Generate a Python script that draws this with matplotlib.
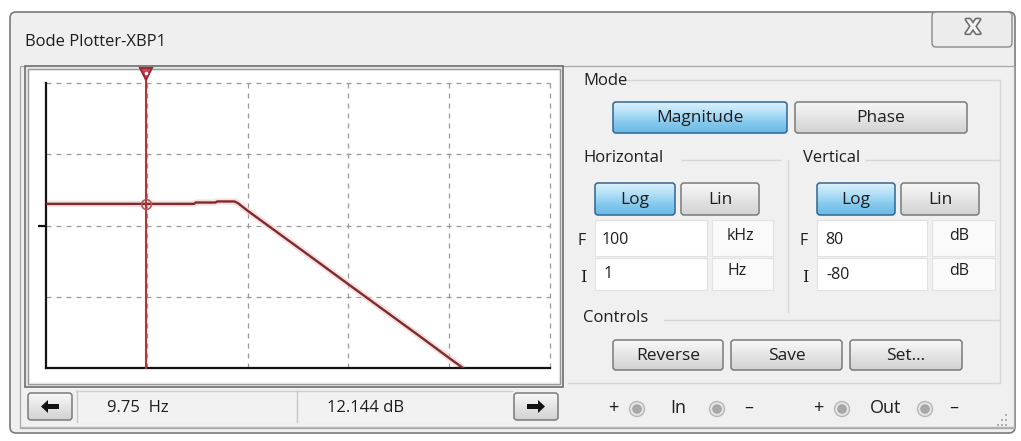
import numpy as np
import matplotlib
matplotlib.use("Agg")
import matplotlib.pyplot as plt
from matplotlib.patches import FancyBboxPatch, Rectangle, Circle, Polygon
from matplotlib.colors import LinearSegmentedColormap
from matplotlib.transforms import blended_transform_factory
import matplotlib.patheffects as pe

# ---------------- data ----------------
freq_hz = [1, 29.5, 30.5, 48, 50, 74, 80, 100, 200, 500, 1000, 2000, 5000, 10000, 13700]
mag_db = [12.144, 12.144, 12.9, 12.9, 13.5, 13.5, 12.6, 8.3, -4.1, -20.5, -33.0, -45.4, -61.8, -74.4, -80.0]
cursor_hz = 9.75
cursor_db = 12.144
x_grid = [10, 100, 1000, 10000, 100000]
y_grid = [-40, 0, 40, 80]
x_range = (1, 100000)
y_range = (-80, 80)
cursor_freq_label = "9.75  Hz"
cursor_mag_label = "12.144 dB"

FONT = "Open Sans"
W, H = 1021, 441
fig = plt.figure(figsize=(W / 100, H / 100), dpi=100)
fig.patch.set_facecolor("#ffffff")

bg = fig.add_axes([0, 0, 1, 1])
bg.set_axis_off()


def rrect(x0, y0, x1, y1, fc, ec, lw=1.0, r=3, z=1):
    p = FancyBboxPatch((x0, y0), x1 - x0, y1 - y0,
                       boxstyle=f"round,pad=0,rounding_size={r}",
                       fc=fc, ec=ec, lw=lw, zorder=z)
    bg.add_patch(p)
    return p


def gradient_button(x0, y0, x1, y1, label, selected=False, fs=12.5):
    if selected:
        cols = ["#dcf1fc", "#b3e0f7", "#85c9ee", "#6bb9e3"]
        edge = "#2f6690"
    else:
        cols = ["#f7f7f7", "#ececec", "#dedede", "#d2d2d2"]
        edge = "#7a7a7a"
    patch = rrect(x0, y0, x1, y1, "none", edge, lw=1.1, r=3, z=4)
    cmap = LinearSegmentedColormap.from_list("g", cols)
    grad = np.linspace(0, 1, 64).reshape(-1, 1)
    im = bg.imshow(grad, extent=(x0, x1, y1, y0), cmap=cmap, aspect="auto",
                   zorder=3, interpolation="bilinear")
    im.set_clip_path(patch)
    if label:
        bg.text((x0 + x1) / 2, (y0 + y1) / 2 + 1, label, ha="center", va="center",
                fontsize=fs, family=FONT, color="#1e1e1e", zorder=5)


# window
rrect(10, 12, 1015, 433, "#efefef", "#7a7a7a", lw=1.2, r=6, z=0.5)
# inner content panel
bg.add_patch(Rectangle((20, 66), 994, 362, fc="#f0f0f0", ec="#a8a8a8", lw=0.9, zorder=0.6))
bg.text(25, 42, "Bode Plotter-XBP1", fontsize=12, family=FONT, color="#1e1e1e",
        ha="left", va="center")

# close button
rrect(932, 12, 1012, 47, "#ececec", "#8a8a8a", lw=1.0, r=4, z=1)
bg.text(973, 28, "X", fontsize=14, family="DejaVu Sans", fontweight="bold", color="#f4f4f4",
        ha="center", va="center", zorder=2,
        path_effects=[pe.withStroke(linewidth=2.4, foreground="#6f6f6f")])

# plot frame
bg.add_patch(Rectangle((25, 66), 538, 321, fc="#e6e6e6", ec="#6f6f6f", lw=1.2, zorder=1))
bg.add_patch(Rectangle((28, 69), 532, 315, fc="#f7f7f7", ec="#9a9a9a", lw=1.0, zorder=1.1))
bg.add_patch(Rectangle((30, 71), 528, 311, fc="#ffffff", ec="none", zorder=1.2))

# bottom bar
bg.add_patch(Rectangle((76, 391), 436, 31, fc="#f2f2f2", ec="none", zorder=1))
bg.plot([76, 512], [391, 391], color="#cfcfcf", lw=1, zorder=1.5)
for xs in (77, 297):
    bg.plot([xs, xs], [391, 422], color="#c8c8c8", lw=1, zorder=1.5)
gradient_button(28, 393, 72, 420, "", False)
gradient_button(514, 393, 558, 420, "", False)
bg.add_patch(Polygon([[41, 406.5], [48, 400], [48, 404], [59, 404], [59, 409],
                      [48, 409], [48, 413]], closed=True, fc="#111111", ec="none", zorder=6))
bg.add_patch(Polygon([[545, 406.5], [538, 400], [538, 404], [527, 404], [527, 409],
                      [538, 409], [538, 413]], closed=True, fc="#111111", ec="none", zorder=6))
bg.text(107, 408, cursor_freq_label, fontsize=12, family=FONT, color="#1e1e1e",
        ha="left", va="center", zorder=5)
bg.text(327, 408, cursor_mag_label, fontsize=12, family=FONT, color="#1e1e1e",
        ha="left", va="center", zorder=5)
bg.plot([20, 1014], [427, 427], color="#b5b5b5", lw=1, zorder=1.5)

# right panel group lines
lc = "#d6d6d6"
bg.plot([622, 1000], [80, 80], color=lc, lw=1, zorder=1)
bg.plot([1000, 1000], [80, 383], color=lc, lw=1, zorder=1)
bg.plot([682, 780], [160, 160], color=lc, lw=1, zorder=1)
bg.plot([866, 1000], [160, 160], color=lc, lw=1, zorder=1)
bg.plot([788, 788], [160, 312], color=lc, lw=1, zorder=1)
bg.plot([664, 1000], [320, 320], color=lc, lw=1, zorder=1)
bg.plot([568, 1000], [383, 383], color=lc, lw=1, zorder=1)

bg.text(583, 81, "Mode", fontsize=12, family=FONT, color="#1e1e1e", ha="left", va="center")
gradient_button(613, 102, 787, 133, "Magnitude", True)
gradient_button(795, 102, 967, 133, "Phase", False)

bg.text(583, 158, "Horizontal", fontsize=12, family=FONT, color="#1e1e1e", ha="left", va="center")
bg.text(803, 158, "Vertical", fontsize=12, family=FONT, color="#1e1e1e", ha="left", va="center")
gradient_button(595, 183, 675, 215, "Log", True)
gradient_button(681, 183, 759, 215, "Lin", False)
gradient_button(817, 183, 895, 215, "Log", True)
gradient_button(901, 183, 979, 215, "Lin", False)

# entry boxes
for (x0, x1) in ((595, 707), (817, 927)):
    for (y0, y1) in ((220, 256), (258, 290)):
        bg.add_patch(Rectangle((x0, y0), x1 - x0, y1 - y0, fc="#ffffff", ec="#e2e2e2", lw=0.8, zorder=1))
for (x0, x1) in ((712, 773), (932, 995)):
    for (y0, y1) in ((220, 256), (258, 290)):
        bg.add_patch(Rectangle((x0, y0), x1 - x0, y1 - y0, fc="#fafafa", ec="#e2e2e2", lw=0.8, zorder=1))

tk = dict(fontsize=11.5, family=FONT, color="#1e1e1e", va="center", zorder=3)
bg.text(577, 241, "F", ha="left", **tk)
bg.text(799, 241, "F", ha="left", **tk)
bg.text(580, 278, "I", ha="left", fontsize=11.5, family="DejaVu Serif", color="#1e1e1e", va="center")
bg.text(802, 278, "I", ha="left", fontsize=11.5, family="DejaVu Serif", color="#1e1e1e", va="center")
bg.text(602, 240, "100", ha="left", **tk)
bg.text(727, 236, "kHz", ha="left", **tk)
bg.text(825, 240, "80", ha="left", **tk)
bg.text(949, 236, "dB", ha="left", **tk)
bg.text(604, 274, "1", ha="left", **tk)
bg.text(727, 271, "Hz", ha="left", **tk)
bg.text(826, 275, "-80", ha="left", **tk)
bg.text(949, 271, "dB", ha="left", **tk)

bg.text(583, 318, "Controls", fontsize=12, family=FONT, color="#1e1e1e", ha="left", va="center")
gradient_button(613, 340, 723, 370, "Reverse", False)
gradient_button(731, 340, 842, 370, "Save", False)
gradient_button(850, 340, 962, 370, "Set...", False)

# terminals
bt = dict(fontsize=13, family=FONT, color="#1e1e1e", va="center", ha="center", zorder=3)
for xp, s in ((613, "+"), (678, "In"), (749, "\u2013"), (818, "+"), (886, "Out"), (954, "\u2013")):
    bg.text(xp, 408, s, **bt)
for xc in (637, 717, 842, 925):
    bg.add_patch(Circle((xc, 409), 7.5, fc="#e4e4e4", ec="#b8b8b8", lw=1.0, zorder=2))
    bg.add_patch(Circle((xc, 409), 4.2, fc="#a9a9a9", ec="#9a9a9a", lw=0.6, zorder=2.1))

# resize grip
for (gx, gy) in ((1005, 414), (1001, 419), (1005, 419), (997, 424), (1001, 424), (1005, 424)):
    bg.add_patch(Rectangle((gx, gy), 2, 2, fc="#b0b0b0", ec="none", zorder=2))

bg.set_xlim(0, W)
bg.set_ylim(H, 0)

# ---------------- plot axes ----------------
L, R, T, B = 46, 550, 83, 368
ax = fig.add_axes([L / W, (H - B) / H, (R - L) / W, (B - T) / H])
ax.set_facecolor("none")
ax.set_xscale("log")
ax.set_xlim(*x_range)
ax.set_ylim(*y_range)
for s in ("top", "right"):
    ax.spines[s].set_visible(False)
for s in ("left", "bottom"):
    ax.spines[s].set_color("#111111")
    ax.spines[s].set_linewidth(1.6)
ax.set_xticks([])
ax.set_xticks([], minor=True)
ax.set_yticks([0])
ax.set_yticklabels([])
ax.tick_params(axis="y", direction="out", length=6, width=1.6, color="#111111")

for xv in x_grid:
    ax.axvline(xv, color="#9a9a9a", lw=0.9, ls=(0, (4, 4)), zorder=1, clip_on=False)
for yv in y_grid:
    ax.axhline(yv, color="#9a9a9a", lw=0.9, ls=(0, (4, 4)), zorder=1, clip_on=False)

# pink glow + curve
ax.plot(freq_hz, mag_db, color="#f3c9c9", lw=4.5, alpha=0.6, zorder=2, solid_capstyle="butt")
ax.plot(freq_hz, mag_db, color="#7e2b2e", lw=1.7, zorder=3)

# cursor
ax.axvline(cursor_hz, ymin=0, ymax=1.04, color="#b3343b", lw=1.5, zorder=4, clip_on=False)
btf = blended_transform_factory(ax.transData, ax.transAxes)
ax.plot([cursor_hz], [1.03], transform=btf, marker="v", ms=9, mfc="#c9485a",
        mec="#a02632", mew=1.4, clip_on=False, zorder=5)
ax.plot([cursor_hz], [1.035], transform=btf, marker="o", ms=2.5, mfc="#ffffff",
        mec="none", clip_on=False, zorder=6)
ax.plot([cursor_hz], [cursor_db], marker="o", ms=7, mfc="none", mec="#b3555b",
        mew=1.2, zorder=5)

fig.savefig("out.png", dpi=100)
